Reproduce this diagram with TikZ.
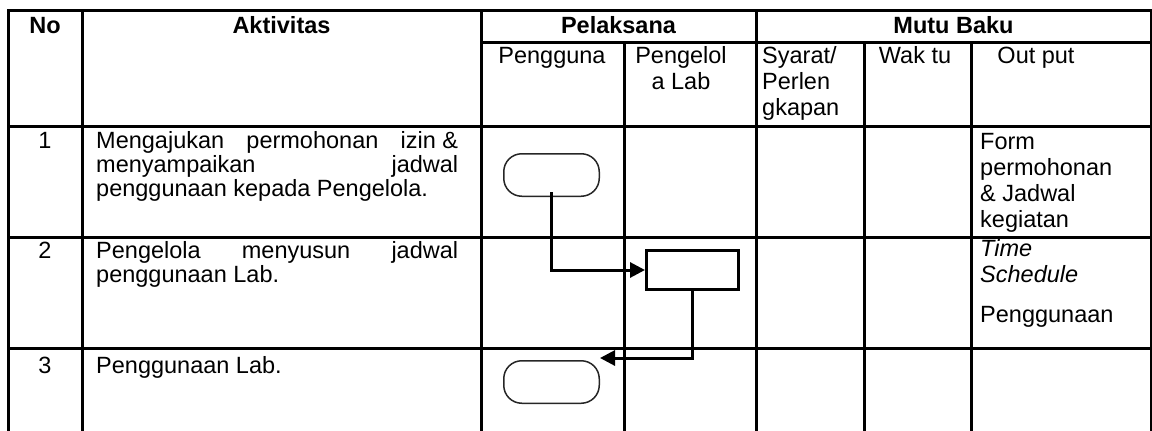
\documentclass[tikz,border=0pt]{standalone}
\usepackage{fontspec}
\setmainfont{Liberation Sans}
\usetikzlibrary{arrows.meta,calc}
\begin{document}
\begin{tikzpicture}[x=1pt,y=-1pt,
  grid/.style={line width=3pt,line cap=rect},
  txt/.style={inner sep=0pt,font=\fontsize{23.5}{27}\selectfont},
  hdr/.style={inner sep=0pt,font=\fontsize{23.5}{27}\selectfont\bfseries},
  term/.style={draw=black!85,line width=1.5pt,rounded corners=18pt,
    minimum width=95.5pt,minimum height=42.5pt,inner sep=0pt},
  proc/.style={draw,line width=3pt,minimum width=92pt,minimum height=39pt,inner sep=0pt},
  flow/.style={line width=3pt,-{Triangle[length=15pt,width=15pt]}}
]
\useasboundingbox (0,0) rectangle (1152,431);

% table rules
\draw[grid] (8,10) -- (1151,10);
\draw[grid] (481,42) -- (1151,42);
\draw[grid] (8,126) -- (1151,126);
\draw[grid] (8,237) -- (1151,237);
\draw[grid] (8,348) -- (1151,348);
\draw[grid] (8,10) -- (8,440);
\draw[grid] (82,10) -- (82,440);
\draw[grid] (481,10) -- (481,440);
\draw[grid] (624,42) -- (624,440);
\draw[grid] (756,10) -- (756,440);
\draw[grid] (864,42) -- (864,440);
\draw[grid] (971,42) -- (971,440);
\draw[grid] (1151,10) -- (1151,440);

% header
\node[hdr,anchor=base] (hno) at (45,34) {No};
\node[hdr,anchor=base] (hakt) at (281.5,34) {Aktivitas};
\node[hdr,anchor=base] (hpel) at (618.5,34) {Pelaksana};
\node[hdr,anchor=base] (hmutu) at (953.5,34) {Mutu Baku};
\node[txt,anchor=base] (hpgg) at (552,63) {Pengguna};
\node[txt,anchor=base] (hpgl1) at (681,63) {Pengelol};
\node[txt,anchor=base] (hpgl2) at (681,89) {a Lab};
\node[txt,anchor=base west] (hsy1) at (762,63) {Syarat/};
\node[txt,anchor=base west] (hsy2) at (762,89) {Perlen};
\node[txt,anchor=base west] (hsy3) at (762,115) {gkapan};
\node[txt,anchor=base] (hwak) at (915,63) {Wak tu};
\node[txt,anchor=base] (hout) at (1036,63) {Out put};

% row 1
\node[txt,anchor=base] (n1) at (45,148) {1};
\node[txt,anchor=base west] (a11) at (96,148) {\makebox[362pt][s]{Mengajukan permohonan \hbox{izin \&}}};
\node[txt,anchor=base west] (a12) at (96,172) {\makebox[362pt][s]{menyampaikan jadwal}};
\node[txt,anchor=base west] (a13) at (96,196) {penggunaan kepada Pengelola.};
\node[txt,anchor=base west] (o11) at (980,149) {Form};
\node[txt,anchor=base west] (o12) at (980,175) {permohonan};
\node[txt,anchor=base west] (o13) at (980,201) {\& Jadwal};
\node[txt,anchor=base west] (o14) at (980,227) {kegiatan};

% row 2
\node[txt,anchor=base] (n2) at (45,258) {2};
\node[txt,anchor=base west] (a21) at (96,258) {\makebox[362pt][s]{Pengelola menyusun jadwal}};
\node[txt,anchor=base west] (a22) at (96,282) {penggunaan Lab.};
\node[txt,anchor=base west] (o21) at (980,256) {\itshape Time};
\node[txt,anchor=base west] (o22) at (980,282) {\itshape Schedule};
\node[txt,anchor=base west] (o23) at (980,322) {Penggunaan};

% row 3
\node[txt,anchor=base] (n3) at (45,373) {3};
\node[txt,anchor=base west] (a31) at (96,373) {Penggunaan Lab.};

% flow shapes
\node[term] (t1) at (551.5,175) {};
\node[proc] (p2) at (692.5,270) {};
\node[term] (t3) at (551.5,382) {};

% connectors
\draw[flow] ([yshift=5pt]t1.south) |- (p2.west);
\draw[flow] (p2.south) |- ([yshift=2pt]t3.north east);
\end{tikzpicture}
\end{document}
